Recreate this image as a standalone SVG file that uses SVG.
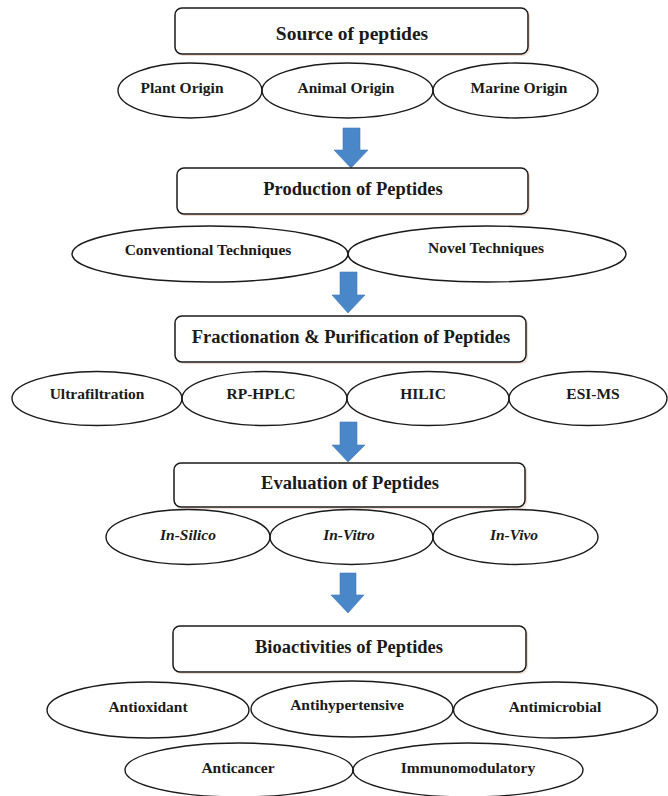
<svg xmlns="http://www.w3.org/2000/svg" width="668" height="796" viewBox="0 0 668 796">
<defs>
<style>
.box{fill:#fff;stroke:#1a1a1a;stroke-width:1.5}
.ell{fill:none;stroke:#1a1a1a;stroke-width:1.4}
.halo{fill:none;stroke:#f7d9cc;stroke-width:1.2}
.t{font-weight:bold;fill:#1a1a1a;text-anchor:middle}
.title{font-size:18.5px}
.lbl{font-size:15.5px}
.it{font-style:italic}
.arrow{fill:#4a87c9;stroke:#3f7bbb;stroke-width:0.6}
</style>
</defs>
<rect width="668" height="796" fill="#fff"/>

<g id="connectors">
<path class="arrow" d="M343,128 H360 V150 H368 L351,168 L334,150 H343 Z"/>
<path class="arrow" d="M340,272 H357 V295 H365 L348,313 L332,295 H340 Z"/>
<path class="arrow" d="M340,422 H357 V445 H365 L348,462 L332,445 H340 Z"/>
<path class="arrow" d="M340,573 H356 V595 H364 L348,613 L331,595 H340 Z"/>
</g>

<g font-family="Liberation Serif, 'Times New Roman', 'DejaVu Serif', serif">
<g id="source">
<rect class="halo" x="176.5" y="9.5" width="353" height="46" rx="7"/>
<rect class="box" x="175" y="8" width="353" height="46" rx="7"/>
<text class="t title" x="352" y="40" style="font-size:19.5px">Source of peptides</text>
</g>
<g id="plant-origin">
<ellipse class="ell" cx="190" cy="90.5" rx="72" ry="27.5"/>
<text class="t lbl" x="182" y="93">Plant Origin</text>
</g>
<g id="animal-origin">
<ellipse class="ell" cx="347.5" cy="90.5" rx="85.5" ry="27.5"/>
<text class="t lbl" x="346" y="93">Animal Origin</text>
</g>
<g id="marine-origin">
<ellipse class="ell" cx="515.5" cy="90.5" rx="82.5" ry="27.5"/>
<text class="t lbl" x="519" y="93">Marine Origin</text>
</g>

<g id="production">
<rect class="halo" x="178.5" y="169.5" width="351" height="46" rx="7"/>
<rect class="box" x="177" y="168" width="351" height="46" rx="7"/>
<text class="t title" x="353" y="195">Production of Peptides</text>
</g>
<g id="conventional">
<ellipse class="ell" cx="210" cy="254" rx="138" ry="28"/>
<text class="t lbl" x="208" y="255">Conventional Techniques</text>
</g>
<g id="novel">
<ellipse class="ell" cx="487" cy="254" rx="139" ry="28"/>
<text class="t lbl" x="486" y="253">Novel Techniques</text>
</g>

<g id="fractionation">
<rect class="halo" x="176.5" y="317.5" width="351" height="46" rx="7"/>
<rect class="box" x="175" y="316" width="351" height="46" rx="7"/>
<text class="t title" x="351" y="343">Fractionation &amp; Purification of Peptides</text>
</g>
<g id="ultrafiltration">
<ellipse class="ell" cx="97" cy="398.5" rx="85" ry="27"/>
<text class="t lbl" x="97" y="399">Ultrafiltration</text>
</g>
<g id="rp-hplc">
<ellipse class="ell" cx="264.5" cy="398.5" rx="82.5" ry="27"/>
<text class="t lbl" x="261" y="399">RP-HPLC</text>
</g>
<g id="hilic">
<ellipse class="ell" cx="428" cy="398.5" rx="81" ry="27"/>
<text class="t lbl" x="423" y="399">HILIC</text>
</g>
<g id="esi-ms">
<ellipse class="ell" cx="588" cy="398.5" rx="79" ry="27"/>
<text class="t lbl" x="593" y="399">ESI-MS</text>
</g>

<g id="evaluation">
<rect class="halo" x="175.5" y="464.5" width="351" height="44" rx="7"/>
<rect class="box" x="174" y="463" width="351" height="44" rx="7"/>
<text class="t title" x="350" y="489">Evaluation of Peptides</text>
</g>
<g id="in-silico">
<ellipse class="ell" cx="188" cy="537" rx="82" ry="27.5"/>
<text class="t lbl it" x="188" y="540">In-Silico</text>
</g>
<g id="in-vitro">
<ellipse class="ell" cx="351.5" cy="537" rx="81.5" ry="27.5"/>
<text class="t lbl it" x="349" y="540">In-Vitro</text>
</g>
<g id="in-vivo">
<ellipse class="ell" cx="515.5" cy="537" rx="82.5" ry="27.5"/>
<text class="t lbl it" x="514" y="540">In-Vivo</text>
</g>

<g id="bioactivities">
<rect class="halo" x="174.5" y="627.5" width="353" height="46" rx="7"/>
<rect class="box" x="173" y="626" width="353" height="46" rx="7"/>
<text class="t title" x="349" y="653">Bioactivities of Peptides</text>
</g>
<g id="antioxidant">
<ellipse class="ell" cx="148" cy="710" rx="101" ry="28"/>
<text class="t lbl" x="148" y="712">Antioxidant</text>
</g>
<g id="antihypertensive">
<ellipse class="ell" cx="352" cy="709" rx="101" ry="28"/>
<text class="t lbl" x="347" y="710">Antihypertensive</text>
</g>
<g id="antimicrobial">
<ellipse class="ell" cx="555.5" cy="710" rx="102" ry="28"/>
<text class="t lbl" x="555" y="712">Antimicrobial</text>
</g>
<g id="anticancer">
<ellipse class="ell" cx="239" cy="770" rx="114" ry="27"/>
<text class="t lbl" x="238" y="773">Anticancer</text>
</g>
<g id="immunomodulatory">
<ellipse class="ell" cx="468" cy="770" rx="115" ry="27"/>
<text class="t lbl" x="468" y="773">Immunomodulatory</text>
</g>
</g>
</svg>
